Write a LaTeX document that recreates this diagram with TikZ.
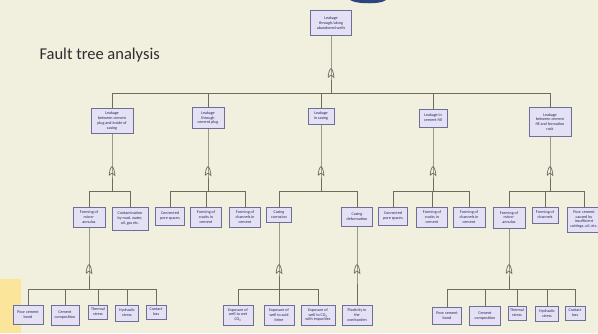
\documentclass[tikz,border=0pt]{standalone}
\usepackage{fontspec}
\setmainfont{Carlito}
\definecolor{bgc}{HTML}{F1EFDE}
\definecolor{boxfill}{HTML}{E3E1F3}
\definecolor{boxline}{HTML}{6F6D99}
\definecolor{boxtext}{HTML}{2A2860}
\definecolor{wire}{HTML}{6C6C62}
\definecolor{titletext}{HTML}{2E2E2E}
\definecolor{yel}{HTML}{FBE59A}
\definecolor{navy}{HTML}{2C4580}
\begin{document}
\begin{tikzpicture}[x=1pt,y=-1pt,
  box/.style={draw=boxline, fill=boxfill, line width=0.8pt, inner sep=0.3pt, align=center,
    font=\fontsize{4.1}{4.9}\selectfont, text=boxtext},
  conn/.style={draw=wire, line width=0.85pt},
  orgate/.style={inner sep=0pt, minimum width=7pt, minimum height=10pt, path picture={
    \draw[draw=wire, line width=0.7pt]
      ([shift={(0.6pt,0.6pt)}]path picture bounding box.south west)
      .. controls ([shift={(0.6pt,-2pt)}]path picture bounding box.west) and ([shift={(-1.5pt,-0.6pt)}]path picture bounding box.north) .. ([yshift=-0.6pt]path picture bounding box.north)
      .. controls ([shift={(1.5pt,-0.6pt)}]path picture bounding box.north) and ([shift={(-0.6pt,-2pt)}]path picture bounding box.east) .. ([shift={(-0.6pt,0.6pt)}]path picture bounding box.south east)
      .. controls ([yshift=3.5pt]path picture bounding box.south) .. ([shift={(0.6pt,0.6pt)}]path picture bounding box.south west);
  }}
]
\useasboundingbox (0,0) rectangle (598,333);
\fill[bgc] (0,0) rectangle (598,333);
\fill[yel] (0,279) rectangle (21,333);
\fill[navy] (350,0) -- (386,0) .. controls (383,2.5) and (375,3.5) .. (366,3.2) .. controls (358,3) and (353,1.8) .. cycle;

\node[anchor=west, font=\fontsize{16.5}{19}\selectfont, text=titletext] (title) at (36,55) {Fault tree analysis};

% top
\node[box, minimum width=41pt, minimum height=25pt] (top) at (331,23) {Leakage\\through/along\\abandoned wells};
\node[orgate] (g0) at (331,73) {};
\coordinate (b0) at (331,93);

% level 2
\node[box, minimum width=42pt, minimum height=25pt] (A) at (112,121) {Leakage\\between cement\\plug and inside of\\casing};
\node[box, minimum width=32pt, minimum height=21pt] (B) at (208,118) {Leakage\\through\\cement plug};
\node[box, minimum width=26pt, minimum height=16pt] (C) at (321,116) {Leakage\\in casing};
\node[box, minimum width=28pt, minimum height=18pt] (D) at (433,118) {Leakage in\\cement fill};
\node[box, minimum width=42pt, minimum height=29pt] (E) at (550,122) {Leakage\\between cement\\fill and formation\\rock};

\node[orgate] (gA) at (112,171) {};
\node[orgate] (gB) at (208,171) {};
\node[orgate] (gC) at (321,171) {};
\node[orgate] (gD) at (433,171) {};
\node[orgate] (gE) at (550,171) {};
\coordinate (bA) at (112,191);
\coordinate (bB) at (208,191);
\coordinate (bC) at (321,191);
\coordinate (bD) at (433,191);
\coordinate (bE) at (550,191);

% level 3
\node[box, minimum width=32pt, minimum height=20pt] (A1) at (89,217) {Forming of\\micro-\\annulus};
\node[box, minimum width=36pt, minimum height=23pt] (A2) at (130,218.5) {Contamination\\by mud, water,\\oil, gas etc.};
\node[box, minimum width=29pt, minimum height=18pt] (B1) at (170,216) {Connected\\pore spaces};
\node[box, minimum width=31pt, minimum height=20pt] (B2) at (206,217) {Forming of\\cracks in\\cement};
\node[box, minimum width=31pt, minimum height=20pt] (B3) at (245,217) {Forming of\\channels in\\cement};
\node[box, minimum width=25pt, minimum height=15pt] (C1) at (279,214.5) {Casing\\corrosion};
\node[box, minimum width=31pt, minimum height=19pt] (C2) at (357,216.5) {Casing\\deformation};
\node[box, minimum width=29pt, minimum height=18pt] (D1) at (393,216) {Connected\\pore spaces};
\node[box, minimum width=31pt, minimum height=20pt] (D2) at (432,217) {Forming of\\cracks in\\cement};
\node[box, minimum width=32pt, minimum height=20pt] (D3) at (469,217) {Forming of\\channels in\\cement};
\node[box, minimum width=32pt, minimum height=21pt] (E1) at (509,217.5) {Forming of\\micro-\\annulus};
\node[box, minimum width=26pt, minimum height=16pt] (E2) at (545,215) {Forming of\\channels};
\node[box, minimum width=34pt, minimum height=25pt] (E3) at (584,219.5) {Poor cement\\caused by\\insufficient\\cuttings, oil, etc.};

\node[orgate] (gA1) at (89,269) {};
\node[orgate] (gC1) at (279,269) {};
\node[orgate] (gC2) at (357,269) {};
\node[orgate] (gE1) at (509,269) {};
\coordinate (bA1) at (89,289);
\coordinate (bC1) at (279,289);
\coordinate (bE1) at (509,289);

% level 4
\node[box, minimum width=30pt, minimum height=19pt] (A11) at (28,314.5) {Poor cement\\bond};
\node[box, minimum width=28pt, minimum height=20pt] (A12) at (65,315) {Cement\\composition};
\node[box, minimum width=19pt, minimum height=14pt] (A13) at (98,312) {Thermal\\stress};
\node[box, minimum width=23pt, minimum height=16pt] (A14) at (127,313) {Hydraulic\\stress};
\node[box, minimum width=20pt, minimum height=14pt] (A15) at (156,312) {Contact\\loss};

\node[box, minimum width=30pt, minimum height=20pt] (C11) at (238,315) {Exposure of\\well to wet\\CO\textsubscript{2}};
\node[box, minimum width=30pt, minimum height=20pt] (C12) at (279,315) {Exposure of\\well to acid\\brine};
\node[box, minimum width=34pt, minimum height=20pt] (C13) at (318,315) {Exposure of\\well to CO\textsubscript{2}\\with impurities};
\node[box, minimum width=30pt, minimum height=20pt] (C21) at (357,315) {Plasticity in\\the\\overburden};

\node[box, minimum width=29pt, minimum height=17pt] (E11) at (447,316) {Poor cement\\bond};
\node[box, minimum width=31pt, minimum height=19pt] (E12) at (485,316) {Cement\\composition};
\node[box, minimum width=18pt, minimum height=14pt] (E13) at (517,313) {Thermal\\stress};
\node[box, minimum width=23pt, minimum height=15pt] (E14) at (547,314) {Hydraulic\\stress};
\node[box, minimum width=20pt, minimum height=14pt] (E15) at (575,313) {Contact\\loss};

% connectors
\draw[conn] (top.south) -- (g0.north) -- (b0);
\foreach \n in {A,B,C,D,E} \draw[conn] (\n.north) |- (b0);
\foreach \n in {A,B,C,D,E} \draw[conn] (\n.south) -- (g\n.north) -- (b\n);
\foreach \n in {A1,A2} \draw[conn] (\n.north) |- (bA);
\foreach \n in {B1,B2,B3} \draw[conn] (\n.north) |- (bB);
\foreach \n in {C1,C2} \draw[conn] (\n.north) |- (bC);
\foreach \n in {D1,D2,D3} \draw[conn] (\n.north) |- (bD);
\foreach \n in {E1,E2,E3} \draw[conn] (\n.north) |- (bE);

\draw[conn] (A1.south) -- (gA1.north) -- (bA1);
\draw[conn] (C1.south) -- (gC1.north) -- (bC1);
\draw[conn] (C2.south) -- (gC2.north) -- (C21.north);
\draw[conn] (E1.south) -- (gE1.north) -- (bE1);
\foreach \n in {A11,A12,A13,A14,A15} \draw[conn] (\n.north) |- (bA1);
\foreach \n in {C11,C12,C13} \draw[conn] (\n.north) |- (bC1);
\foreach \n in {E11,E12,E13,E14,E15} \draw[conn] (\n.north) |- (bE1);
\end{tikzpicture}
\end{document}
